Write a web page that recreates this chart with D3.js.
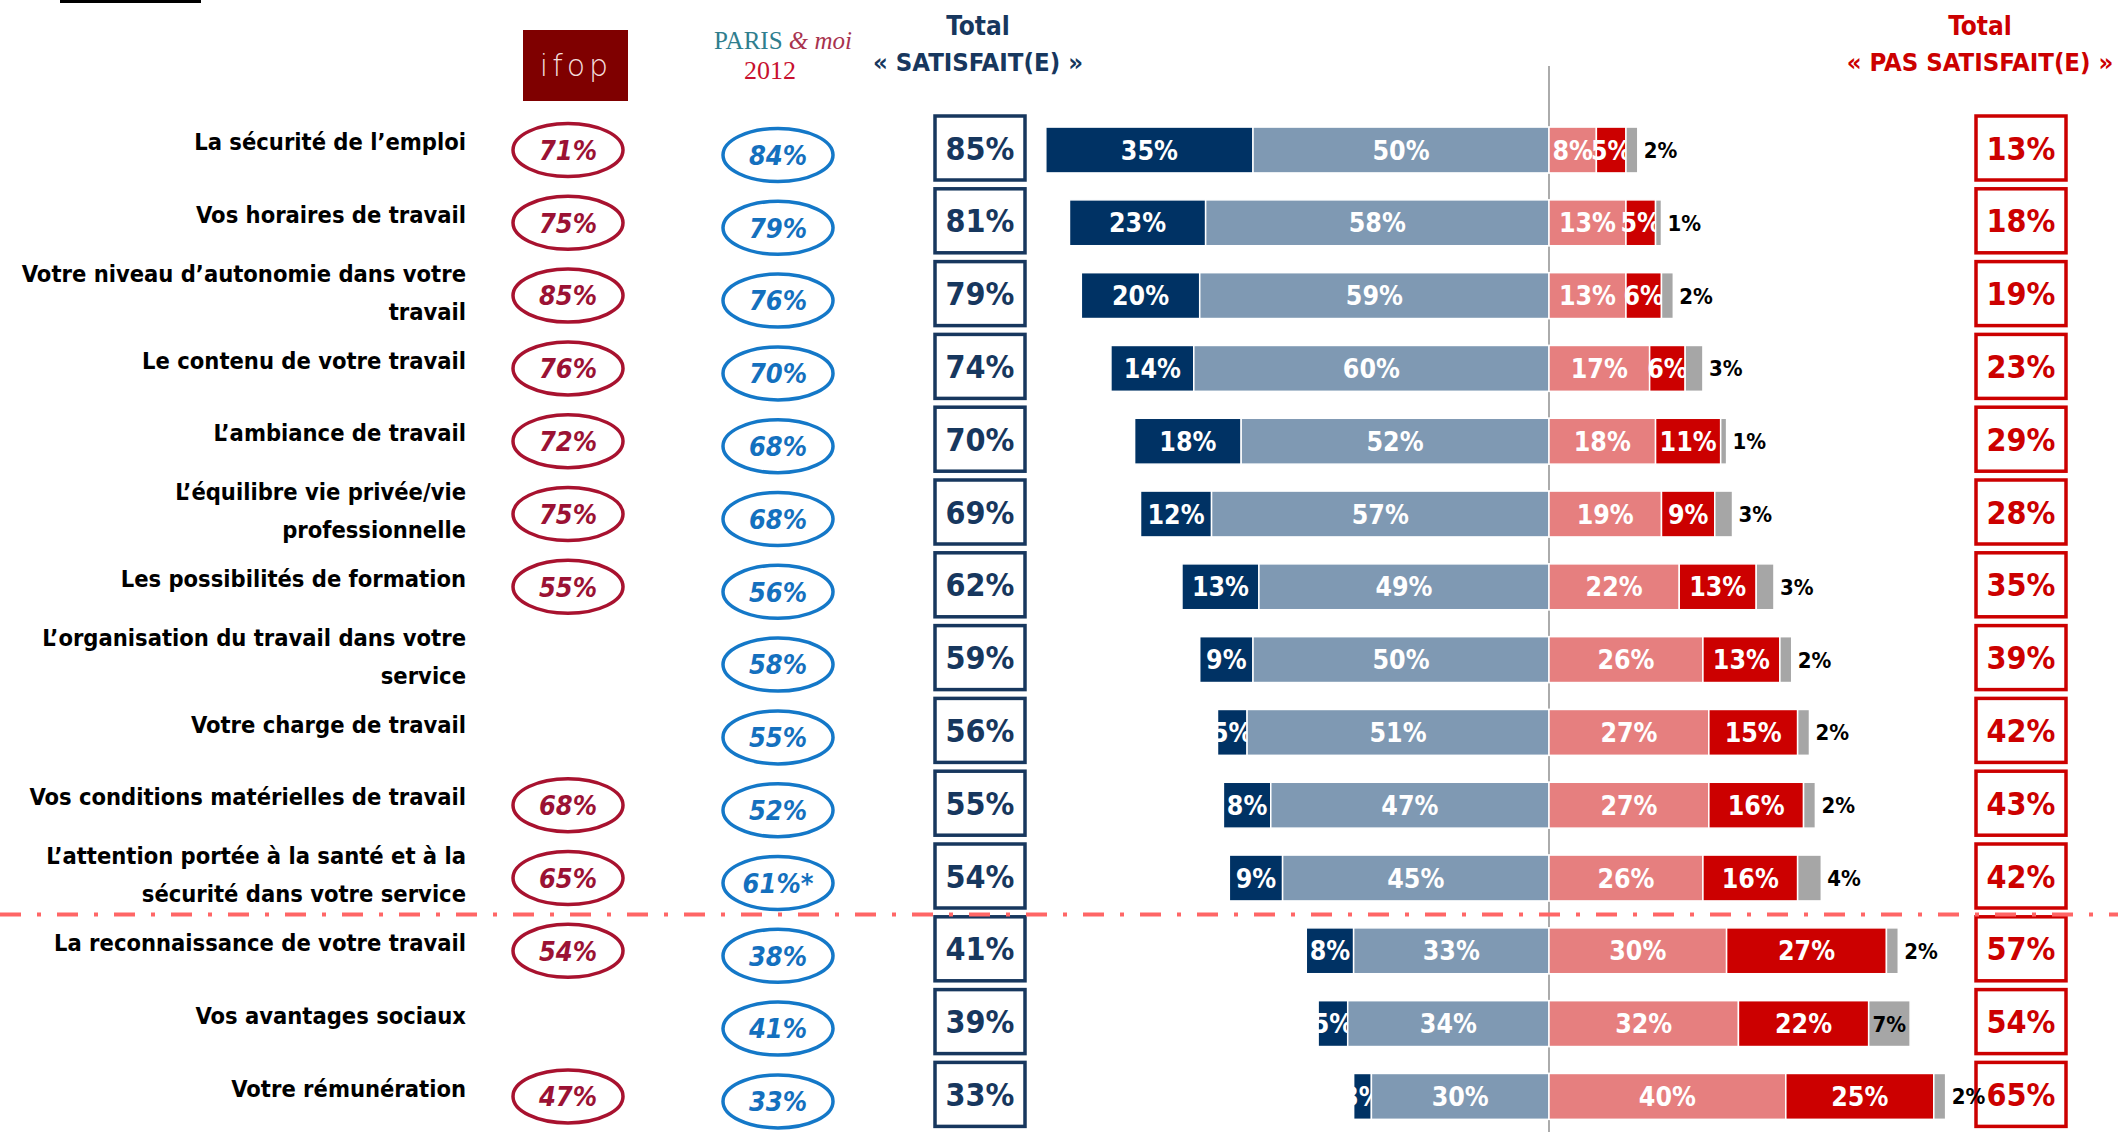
<!DOCTYPE html>
<html>
<head>
<meta charset="utf-8">
<script src="https://cdn.jsdelivr.net/npm/d3@7"></script>
<style>
  body { margin: 0; background: #fff; }
  svg { display: block; }
  text { font-family: "DejaVu Sans Condensed", "Liberation Sans Narrow", sans-serif; font-weight: bold; }
</style>
</head>
<body>
<svg id="chart" width="2118" height="1132"></svg>
<script>
// rows, top to bottom ('|' = line break)
const categories = [
  "La sécurité de l’emploi",
  "Vos horaires de travail",
  "Votre niveau d’autonomie dans votre|travail",
  "Le contenu de votre travail",
  "L’ambiance de travail",
  "L’équilibre vie privée/vie|professionnelle",
  "Les possibilités de formation",
  "L’organisation du travail dans votre|service",
  "Votre charge de travail",
  "Vos conditions matérielles de travail",
  "L’attention portée à la santé et à la|sécurité dans votre service",
  "La reconnaissance de votre travail",
  "Vos avantages sociaux",
  "Votre rémunération"
];
const ifopValues  = [71, 75, 85, 76, 72, 75, 55, null, null, 68, 65, 54, null, 47];
const parisValues = [84, 79, 76, 70, 68, 68, 56, 58, 55, 52, 61, 38, 41, 33];
const parisNotes  = ["", "", "", "", "", "", "", "", "", "", "*", "", "", ""];
const totalSat    = [85, 81, 79, 74, 70, 69, 62, 59, 56, 55, 54, 41, 39, 33];
const verySat     = [35, 23, 20, 14, 18, 12, 13, 9, 5, 8, 9, 8, 5, 3];
const fairlySat   = [50, 58, 59, 60, 52, 57, 49, 50, 51, 47, 45, 33, 34, 30];
const fairlyNot   = [8, 13, 13, 17, 18, 19, 22, 26, 27, 27, 26, 30, 32, 40];
const veryNot     = [5, 5, 6, 6, 11, 9, 13, 13, 15, 16, 16, 27, 22, 25];
const noAnswer    = [2, 1, 2, 3, 1, 3, 3, 2, 2, 2, 4, 2, 7, 2];
const totalNot    = [13, 18, 19, 23, 29, 28, 35, 39, 42, 43, 42, 57, 54, 65];
const splitAfter  = 10; // dashed line drawn below this row

const svg = d3.select('#chart');

const y = d3.scaleBand()
  .domain(d3.range(categories.length))
  .range([113.6, 1132.8])
  .paddingInner(0.37)
  .paddingOuter(0.185);

const x = d3.scaleLinear()
  .domain([-100, 100])
  .range([1549 - 592, 1549 + 592]);

const cy = i => y(i) + y.bandwidth() / 2;

const navy = '#17375E';
const red = '#CC0000';

// top underline (cut title)
svg.append('rect').attr('x', 60).attr('y', 0).attr('width', 141).attr('height', 3).attr('fill', '#000');

// logos
svg.append('rect').attr('x', 523).attr('y', 30).attr('width', 105).attr('height', 71).attr('fill', '#7F0000');
svg.append('text').attr('x', 576).attr('y', 76).attr('text-anchor', 'middle')
  .style('font-family', '"DejaVu Sans ExtraLight", "DejaVu Sans"').style('font-weight', '200')
  .attr('font-size', 30).attr('letter-spacing', 4).attr('fill', '#F2DCDC').text('ifop');

const paris = svg.append('text').attr('x', 783).attr('y', 49).attr('text-anchor', 'middle')
  .style('font-family', '"Liberation Serif", serif').style('font-weight', 'normal').attr('font-size', 25);
paris.append('tspan').attr('fill', '#2F7E8E').text('PARIS ');
paris.append('tspan').attr('fill', '#A8324E').style('font-style', 'italic').text('& moi');
svg.append('text').attr('x', 770).attr('y', 79).attr('text-anchor', 'middle')
  .style('font-family', '"Liberation Serif", serif').style('font-weight', 'normal')
  .attr('font-size', 26).attr('fill', '#C8102E').text('2012');

// headers
[[978, navy, '« SATISFAIT(E) »'], [1980, red, '« PAS SATISFAIT(E) »']].forEach(h => {
  svg.append('text').attr('x', h[0]).attr('y', 35).attr('text-anchor', 'middle')
    .attr('font-size', 26).attr('fill', h[1]).text('Total');
  svg.append('text').attr('x', h[0]).attr('y', 71).attr('text-anchor', 'middle')
    .attr('font-size', 25.5).attr('fill', h[1]).text(h[2]);
});

// center line
svg.append('line').attr('x1', x(0)).attr('x2', x(0)).attr('y1', 66).attr('y2', 1132)
  .attr('stroke', '#7F7F7F').attr('stroke-width', 1.3);

// row labels
categories.forEach((c, i) => {
  const lines = c.split('|');
  const t = svg.append('text').attr('text-anchor', 'end').attr('font-size', 23.5).attr('fill', '#000');
  const off = lines.length === 1 ? -8 : -22;
  lines.forEach((l, k) => {
    t.append('tspan').attr('x', 466).attr('y', cy(i) + off + k * 38).attr('dy', '0.35em').text(l);
  });
});

// ellipses
function ellipseCol(values, cx, dyOff, stroke, fill, notes) {
  values.forEach((v, i) => {
    if (v === null) return;
    const g = svg.append('g').attr('transform', `translate(${cx},${cy(i) + dyOff})`);
    g.append('ellipse').attr('rx', 55).attr('ry', 26.5).attr('fill', 'none')
      .attr('stroke', stroke).attr('stroke-width', 3.5);
    g.append('text').attr('text-anchor', 'middle').attr('dy', '0.36em')
      .attr('font-size', 27).style('font-style', 'italic').attr('fill', fill)
      .text(v + '%' + (notes ? notes[i] : ''));
  });
}
ellipseCol(ifopValues, 568, 0, '#A8122F', '#9B1234', null);
ellipseCol(parisValues, 778, 5, '#1478C8', '#1470BE', parisNotes);

// total boxes
function boxCol(values, bx, color) {
  values.forEach((v, i) => {
    svg.append('rect').attr('x', bx).attr('y', cy(i) - 2 - 32).attr('width', 90).attr('height', 64)
      .attr('fill', '#fff').attr('stroke', color).attr('stroke-width', 3.5);
    svg.append('text').attr('x', bx + 45).attr('y', cy(i) - 2).attr('dy', '0.36em')
      .attr('text-anchor', 'middle').attr('font-size', 32).attr('fill', color).text(v + '%');
  });
}
boxCol(totalSat, 935, navy);
boxCol(totalNot, 1976, red);

// stacked bars
const segColors = ['#003264', '#7F99B3', '#E67F7F', '#CC0000', '#A6A6A6'];
categories.forEach((c, i) => {
  const segs = [
    [-(verySat[i] + fairlySat[i]), -fairlySat[i], verySat[i], 0],
    [-fairlySat[i], 0, fairlySat[i], 1],
    [0, fairlyNot[i], fairlyNot[i], 2],
    [fairlyNot[i], fairlyNot[i] + veryNot[i], veryNot[i], 3],
    [fairlyNot[i] + veryNot[i], fairlyNot[i] + veryNot[i] + noAnswer[i], noAnswer[i], 4]
  ];
  segs.forEach(s => {
    svg.append('rect').attr('x', x(s[0])).attr('y', y(i))
      .attr('width', x(s[1]) - x(s[0])).attr('height', y.bandwidth())
      .attr('fill', segColors[s[3]]).attr('stroke', '#fff').attr('stroke-width', 1.5);
    let tx = (x(s[0]) + x(s[1])) / 2, anchor = 'middle', col = '#fff';
    if (s[3] === 4) {
      col = '#000';
      if (s[2] < 5) { tx = x(s[1]) + 6; anchor = 'start'; }
    }
    svg.append('text').attr('x', tx).attr('y', cy(i)).attr('dy', '0.36em')
      .attr('text-anchor', anchor).attr('font-size', s[3] === 4 ? 22 : 26.5)
      .attr('fill', col).text(s[2] + '%');
  });
});

// dash-dot separator
const sepY = (cy(splitAfter) + cy(splitAfter + 1)) / 2;
svg.append('line').attr('x1', 0).attr('x2', 2118).attr('y1', sepY).attr('y2', sepY)
  .attr('stroke', '#FF6666').attr('stroke-width', 4).attr('stroke-dasharray', '21,16,4,16');
</script>
</body>
</html>
